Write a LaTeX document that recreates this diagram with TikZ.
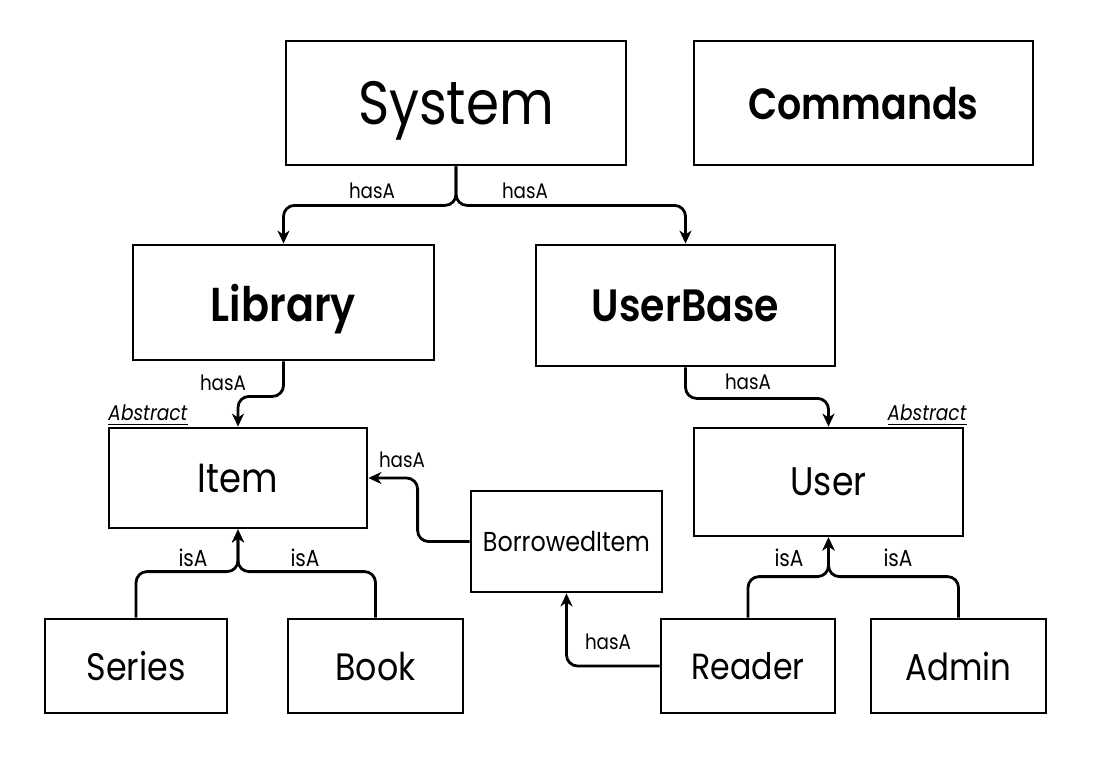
\documentclass[tikz,border=0pt]{standalone}
\usepackage{fontspec}
\usepackage{graphicx}
\setmainfont{Poppins}[BoldFont={Poppins SemiBold}]
\usetikzlibrary{arrows.meta}
\newcommand{\fw}[2]{\resizebox{#1}{!}{\scalebox{1}[1.15]{#2}}}
\begin{document}
\begin{tikzpicture}[x=1pt,y=-1pt,
  box/.style={draw, rectangle, line width=2.8pt, inner sep=0pt, text depth=0pt},
  conn/.style={line width=2.8pt, rounded corners=11pt, -{Stealth[length=13pt,width=12pt,inset=4pt]}},
  lab/.style={inner sep=0pt, text depth=0pt}]
\useasboundingbox (0,0) rectangle (1099,772);
\fill[white] (0,0) rectangle (1099,772);
% boxes
\node[box, minimum width=340pt, minimum height=124pt] (system) at (456,103) {\fw{196pt}{System}};
\node[box, minimum width=339pt, minimum height=124pt] (commands) at (863.5,103) {\fw{230pt}{\bfseries Commands}};
\node[box, minimum width=301pt, minimum height=115pt] (library) at (283.5,302.5) {\fw{145pt}{\bfseries Library}};
\node[box, minimum width=299pt, minimum height=121pt] (userbase) at (685.5,305.5) {\fw{187pt}{\bfseries UserBase}};
\node[box, minimum width=258pt, minimum height=100pt] (item) at (238,478) {\fw{80pt}{Item}};
\node[box, minimum width=269pt, minimum height=108pt] (user) at (828.5,482) {\fw{76pt}{User}};
\node[box, minimum width=191pt, minimum height=101pt] (borrowed) at (566.5,541.5) {\fw{167pt}{BorrowedItem}};
\node[box, minimum width=182pt, minimum height=94pt] (series) at (136,666) {\fw{99pt}{Series}};
\node[box, minimum width=175pt, minimum height=94pt] (book) at (375.5,666) {\fw{80pt}{Book}};
\node[box, minimum width=174pt, minimum height=94pt] (reader) at (748,666) {\fw{113pt}{Reader}};
\node[box, minimum width=175pt, minimum height=94pt] (admin) at (958.5,666) {\fw{106pt}{Admin}};
% connectors
\draw[conn] (system.south) -- ++(0,39) -| (library.north);
\draw[conn] (system.south) -- ++(0,39) -| (userbase.north);
\draw[conn] (library.south) -- ++(0,35) -| (item.north);
\draw[conn] (userbase.south) -- ++(0,31) -| (user.north);
\draw[conn] (borrowed.west) -- ++(-52,0) |- (item.east);
\draw[conn] (reader.west) -| (borrowed.south);
\draw[conn] (series.north) -- ++(0,-46) -| (item.south);
\draw[conn] (book.north) -- ++(0,-46) -| (item.south);
\draw[conn] (reader.north) -- ++(0,-41) -| (user.south);
\draw[conn] (admin.north) -- ++(0,-41) -| (user.south);
% labels
\node[lab] (h1) at (372,191) {\fw{46pt}{hasA}};
\node[lab] (h2) at (525,191) {\fw{46pt}{hasA}};
\node[lab] (h3) at (223,383) {\fw{46pt}{hasA}};
\node[lab] (h4) at (748,382) {\fw{46pt}{hasA}};
\node[lab] (h5) at (402,460) {\fw{46pt}{hasA}};
\node[lab] (h6) at (608,642) {\fw{46pt}{hasA}};
\node[lab] (i1) at (193,558) {\fw{29pt}{isA}};
\node[lab] (i2) at (305,558) {\fw{29pt}{isA}};
\node[lab] (i3) at (789,558) {\fw{29pt}{isA}};
\node[lab] (i4) at (898,558) {\fw{29pt}{isA}};
\node[lab] (a1) at (148,413) {\fw{79pt}{\underline{\itshape Abstract}}};
\node[lab] (a2) at (927,413) {\fw{79pt}{\underline{\itshape Abstract}}};
\end{tikzpicture}
\end{document}
